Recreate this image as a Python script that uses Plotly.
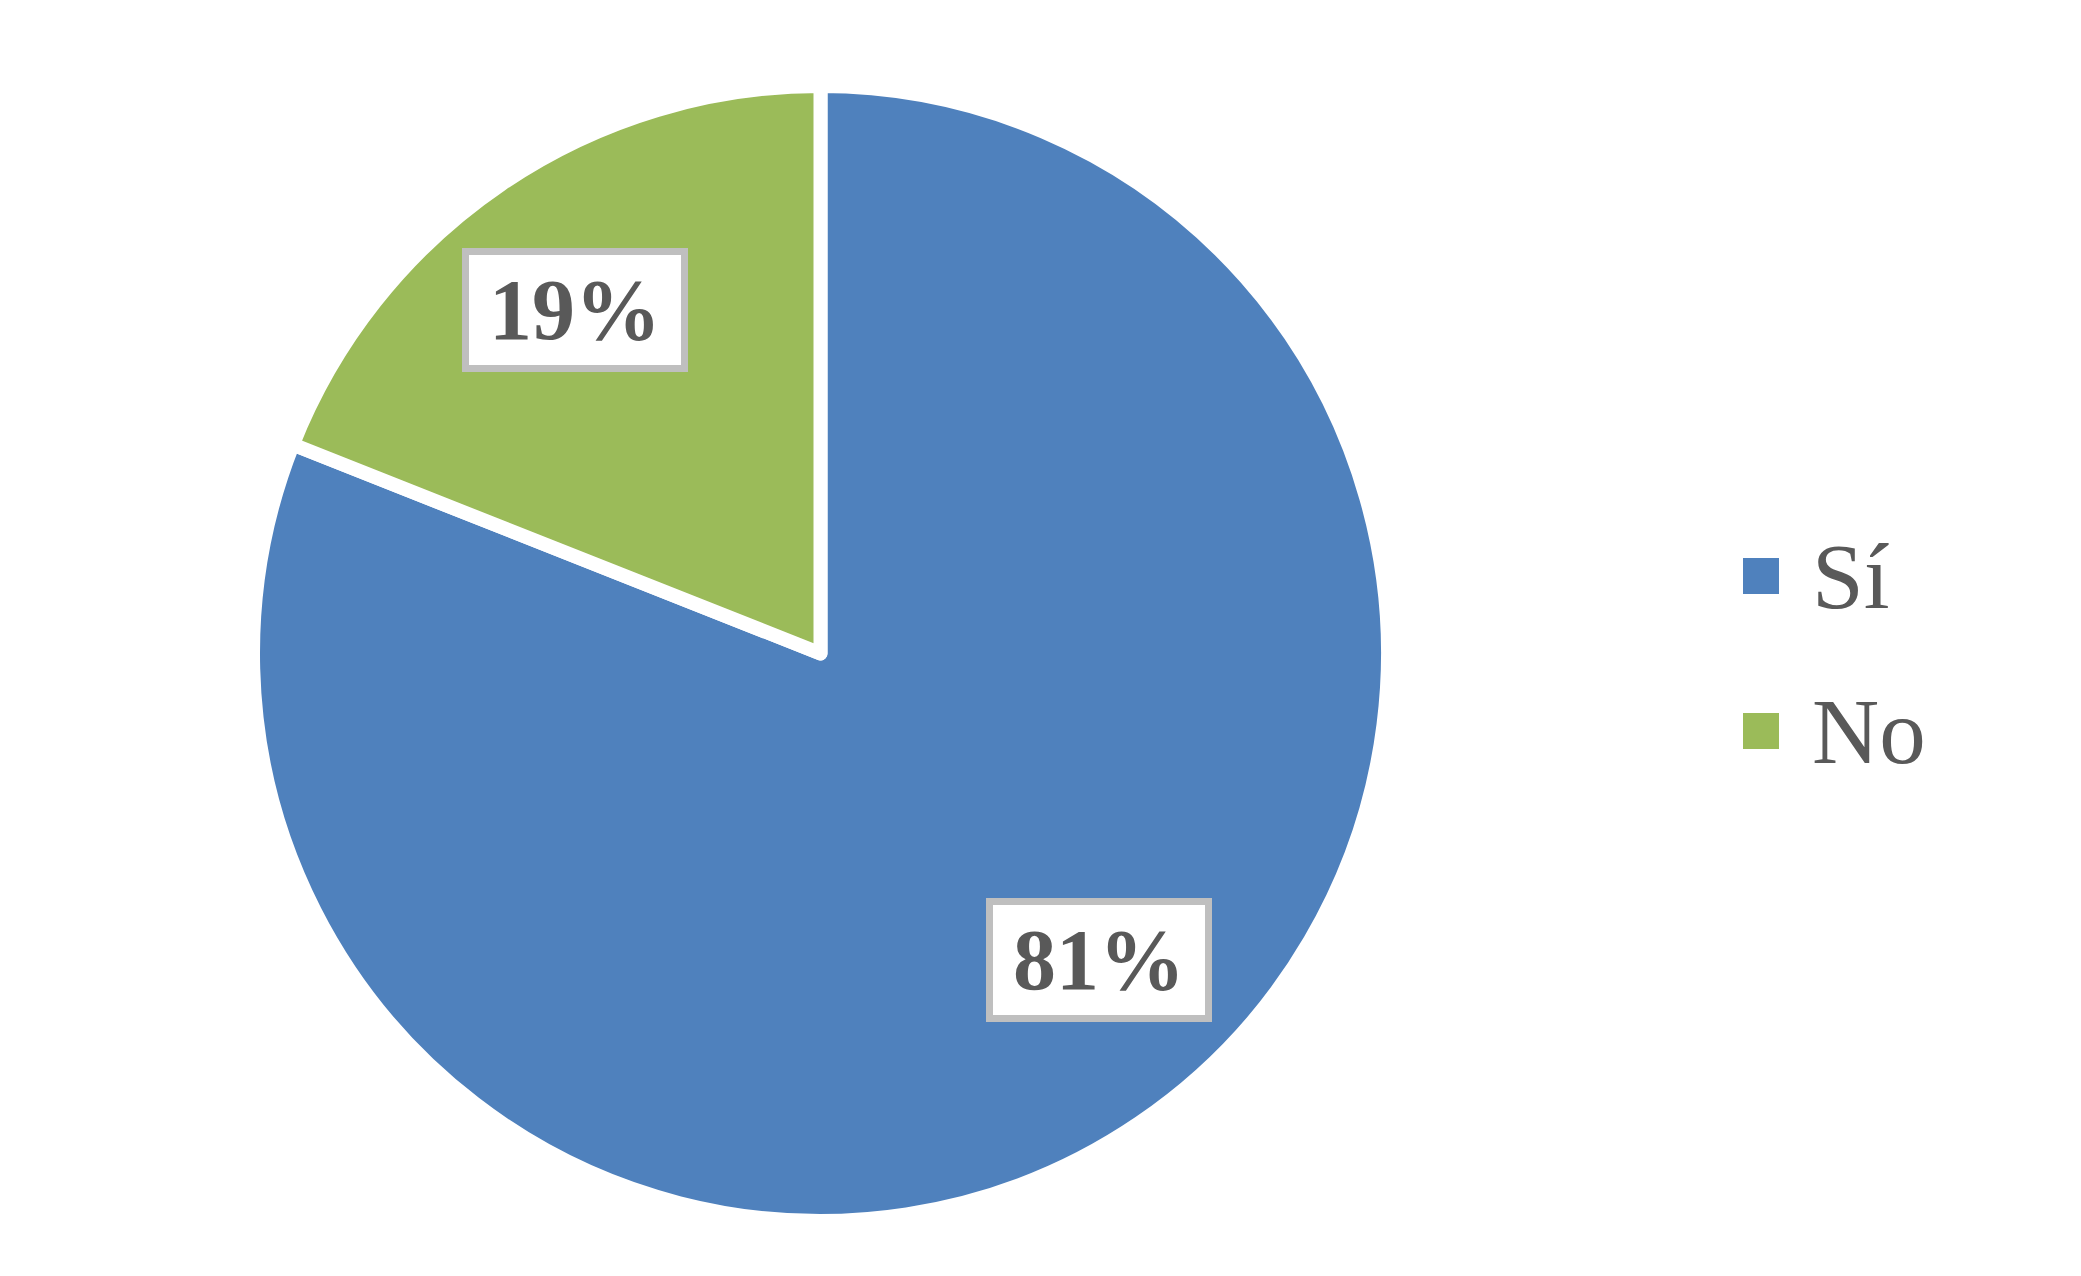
import plotly.graph_objects as go

categories = ["Sí", "No"]
values = [81, 19]
colors = ["#4F81BD", "#9BBB59"]

W, H = 2081, 1276
TEXT = "#595959"
CX, CY, R = 820.5, 653.5, 567.5  # pie centre and radius in pixels (layout)

fig = go.Figure()
fig.add_trace(go.Pie(
    labels=categories, values=values, sort=False, direction="clockwise", rotation=0,
    marker=dict(colors=colors, line=dict(color="white", width=14)),
    textinfo="none", hoverinfo="label+percent", showlegend=False,
    domain=dict(x=[(CX - R) / W, (CX + R) / W], y=[(H - CY - R) / H, (H - CY + R) / H]),
))

# data labels (positions are layout positions of the label boxes)
label_pos = [(1099, 959.5), (575, 310)]
for cat, v, (px, py) in zip(categories, values, label_pos):
    fig.add_annotation(
        x=px / W, y=1 - py / H, xref="paper", yref="paper", showarrow=False,
        text=f"<b>{v}%</b>", font=dict(family="Liberation Serif", size=86, color=TEXT),
        bgcolor="white", bordercolor="#BFBFBF", borderwidth=7, borderpad=0,
        width=212, height=110, xanchor="center", yanchor="middle",
    )

# legend drawn manually (large square keys)
leg_y = [576, 731]
for cat, col, ly in zip(categories, colors, leg_y):
    fig.add_shape(type="rect", xref="paper", yref="paper",
                  x0=1743 / W, x1=1779 / W, y0=1 - (ly + 18) / H, y1=1 - (ly - 18) / H,
                  fillcolor=col, line=dict(width=0))
    fig.add_annotation(
        x=1810 / W, y=1 - ly / H, xref="paper", yref="paper", showarrow=False,
        text=cat, font=dict(family="Liberation Serif", size=93, color=TEXT),
        xanchor="left", yanchor="middle",
    )

fig.update_layout(
    width=W, height=H, margin=dict(l=0, r=0, t=0, b=0),
    paper_bgcolor="white", plot_bgcolor="white",
)
fig.write_html("out.html", config={"displayModeBar": False},
               post_script="document.body.style.margin='0';")
